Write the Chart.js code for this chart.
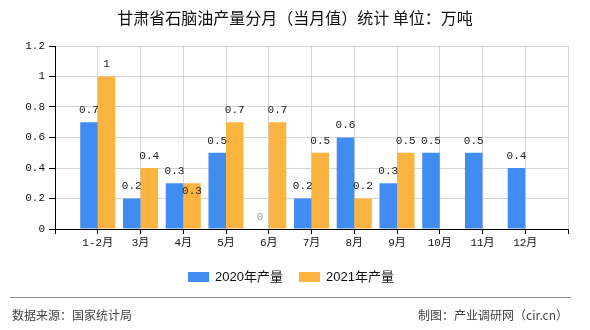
<!DOCTYPE html>
<html>
<head>
<meta charset="utf-8">
<script src="https://cdn.jsdelivr.net/npm/chart.js@4.4.1/dist/chart.umd.min.js"></script>
<style>
    html, body { margin: 0; padding: 0; background: #fff; }
    #wrap { position: relative; width: 590px; height: 330px; }
</style>
</head>
<body>
<div id="wrap"><canvas id="chart"></canvas></div>
<script>
// 月份（类别）
const categories = ['1-2月', '3月', '4月', '5月', '6月', '7月', '8月', '9月', '10月', '11月', '12月'];
// 2020年产量（万吨）
const output2020 = [0.7, 0.2, 0.3, 0.5, 0, 0.2, 0.6, 0.3, 0.5, 0.5, 0.4];
// 2021年产量（万吨）
const output2021 = [1, 0.4, 0.3, 0.7, 0.7, 0.5, 0.2, 0.5, null, null, null];
const seriesNames = ['2020年产量', '2021年产量'];
const yTicks = [0, 0.2, 0.4, 0.6, 0.8, 1, 1.2];

const titleText = '甘肃省石脑油产量分月（当月值）统计 单位：万吨';
const sourceText = '数据来源：国家统计局';
const creditText = '制图：产业调研网（cir.cn）';

const colors = ['#418CF0', '#FCB441'];
const numFont = '11px "Liberation Mono", "Noto Sans CJK SC"';
const cjk = '"Noto Sans CJK SC"';

// 原图的刻度在格子边界上，两端各空出一格
const pad = arr => [null, ...arr, null];
const labels = ['', ...categories, ''];

// 柱顶数值标签（重叠时往下挪）
const valueLabels = {
    id: 'valueLabels',
    afterDatasetsDraw(chart) {
        const ctx = chart.ctx;
        ctx.save();
        ctx.font = numFont;
        ctx.textAlign = 'center';
        ctx.textBaseline = 'middle';
        const placed = [];
        chart.data.datasets.forEach((ds, di) => {
            const meta = chart.getDatasetMeta(di);
            meta.data.forEach((bar, i) => {
                const v = ds.data[i];
                if (v === null || v === undefined) return;
                const text = String(v);
                const w = ctx.measureText(text).width;
                let y = bar.y - 12;
                const hit = r => Math.abs(r.x - bar.x) < (r.w + w) / 2 && Math.abs(r.y - y) < 14;
                while (placed.some(hit)) y += 20;
                placed.push({ x: bar.x, y: y, w: w });
                ctx.fillStyle = v === 0 ? '#999' : '#222';
                ctx.fillText(text, bar.x, y);
            });
        });
        ctx.restore();
    }
};

// 标题、图例、页脚
const decorations = {
    id: 'decorations',
    afterDraw(chart) {
        const ctx = chart.ctx;
        ctx.save();

        // 标题
        ctx.fillStyle = '#111';
        ctx.font = '16px ' + cjk;
        ctx.textAlign = 'center';
        ctx.textBaseline = 'middle';
        ctx.fillText(titleText, 295, 18);

        // 图例
        ctx.font = '13px "Liberation Sans", ' + cjk;
        ctx.textAlign = 'left';
        const boxW = 21, boxH = 10, gap = 6, itemGap = 16;
        const widths = seriesNames.map(n => boxW + gap + ctx.measureText(n).width);
        const total = widths.reduce((a, b) => a + b, 0) + itemGap * (widths.length - 1);
        let x = 291 - total / 2;
        seriesNames.forEach((n, i) => {
            ctx.fillStyle = colors[i];
            ctx.fillRect(x, 272, boxW, boxH);
            ctx.fillStyle = '#111';
            ctx.fillText(n, x + boxW + gap, 277);
            x += widths[i] + itemGap;
        });

        // 页脚分割线
        ctx.strokeStyle = '#888';
        ctx.lineWidth = 1;
        ctx.beginPath();
        ctx.moveTo(10, 297.5);
        ctx.lineTo(571, 297.5);
        ctx.stroke();

        ctx.fillStyle = '#444';
        ctx.font = '12px ' + cjk;
        ctx.fillText(sourceText, 12, 315);
        ctx.textAlign = 'right';
        ctx.fillText(creditText, 568, 315);

        ctx.restore();
    }
};

const ctx = document.getElementById('chart').getContext('2d');
new Chart(ctx, {
    type: 'bar',
    data: {
        labels: labels,
        datasets: [
            { label: seriesNames[0], data: pad(output2020), backgroundColor: colors[0] },
            { label: seriesNames[1], data: pad(output2021), backgroundColor: colors[1] }
        ]
    },
    options: {
        responsive: true,
        maintainAspectRatio: false,
        animation: false,
        layout: { padding: { top: 46, right: 22, left: 0, bottom: 76 } },
        datasets: { bar: { barPercentage: 1, categoryPercentage: 0.82 } },
        scales: {
            x: {
                offset: false,
                grid: { color: '#d4d4d4', tickColor: '#000', tickLength: 5, offset: false },
                border: { color: '#000' },
                ticks: { color: '#111', font: { family: '"Liberation Mono", ' + cjk, size: 11 }, padding: 2, maxRotation: 0, autoSkip: false },
                afterFit: s => { s.height = 25; }
            },
            y: {
                min: 0,
                max: 1.2,
                afterBuildTicks: s => { s.ticks = yTicks.map(v => ({ value: v })); },
                grid: { color: '#d4d4d4', tickColor: '#000', tickLength: 6 },
                border: { color: '#000' },
                ticks: {
                    color: '#111',
                    font: { family: '"Liberation Mono"', size: 11 },
                    padding: 4,
                    callback: v => String(Math.round(v * 10) / 10)
                },
                afterFit: s => { s.width = 55; }
            }
        },
        plugins: {
            legend: { display: false },
            title: { display: false },
            tooltip: { enabled: false }
        }
    },
    plugins: [valueLabels, decorations]
});
</script>
</body>
</html>
